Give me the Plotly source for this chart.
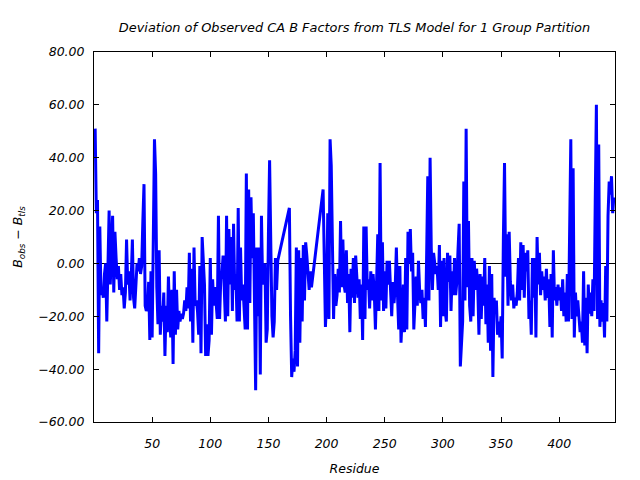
import plotly.graph_objects as go

# residues present (two gaps: 159-167, 188-196)
residues = list(range(1, 159)) + list(range(168, 188)) + list(range(197, 448))

b_dev = [
    # 1-91
    51, 19, 24, -34, 14, -12, -9, -13, -4, 0,
    -22, 4, 20, -8, 5, 18, -11, 12, 2, -6,
    -1, -10, -4, -12, -9, -17, -11, 9, -8, -3,
    -14, -6, 9, -13, -17, -6, 0, -3, 2, -4,
    -1, 16, 30, -16, -18, -17, -7, -29, -3, -28,
    2, 47, 34, -9, -23, 5, -27, -16, -22, -11,
    -35, -16, -26, -5, -20, -28, -10, -38, -3, -27,
    -10, -25, -18, -22, -19, -21, -19, -14, -18, -9,
    -17, 4, -22, -2, -30, 6, -16, -14, -18, -27,
    -1,
    # 92-158
    -34, 10, -2, -8, -35, -23, -35, -29, 2,
    -27, -6, -16, -9, -15, -21, 18, -21, -6, -4,
    3, -14, -22, 18, -20, 13, -8, 10, -18, 15,
    -10, -4, -22, 21, -22, 6, -14, -8, -16, -25,
    34, -25, 28, -15, 25, 2, 19, -22, -48, 6,
    -20, 6, -42, 18, -8, -2, 0, -30, -25, 11,
    39, 8, -20, -28, -22, 2, -10, 1,
    # 168-187
    21, -20, -43, -36, -41, -33, 6, -39, 5, -30,
    2, -22, 7, -14, 8, 3, -5, -10, -3, -9,
    # 197-263
    28, -8, -24, -14, 19, -21, 47, 37, 6, -21,
    -4, -16, -12, -2, -11, 16, -9, 9, -8, -11,
    5, -15, -4, -26, -2, -13, 2, -15, 3, -7,
    -13, -6, -21, -8, -29, 14, -21, 14, -10, -6,
    -17, -3, -14, -4, -11, -25, -8, 11, -18, 38,
    -14, 8, -18, -3, -17, 1, -8, 1, -10, -20,
    -7, -15, -9, 6, -12, -25, -1,
    # 264-349
    -30, -20, -8, -26, 2, -25, 12, 0, 13, -3,
    4, -25, -15, -5, -16, 1, -10, -15, -10, -21,
    -13, -24, 2, 33, -14, 40, 6, -10, 4, -1,
    -4, -1, -10, 7, -24, 1, -20, 2, -18, -22,
    4, -7, 3, -18, -3, -12, 2, -12, -7, 5,
    15, -39, -28, -22, 31, -14, 51, -9, 16, -16,
    -22, 2, -20, 1, -10, -2, -9, -27, -4, -21,
    -5, -16, 2, -23, -8, -30, -1, -33, -4, -43,
    -13, -18, -14, -27, -22, -28,
    # 350-447
    -20, -36, 9, 38, -5, 11, -16, 12, -7, -14,
    -8, -17, -13, -16, -11, 2, -14, 8, -10, 7,
    -13, 4, -3, 5, -21, -14, -27, 2, -13, 2,
    -28, 10, -8, 4, -12, -3, -10, -5, -14, -2,
    -13, -6, -24, -4, -28, 5, -14, -9, -16, -8,
    -14, -9, -18, -6, -20, -11, -22, -4, -22, 12,
    47, -21, 36, -28, -11, -20, -14, -20, -26, -22,
    -30, -3, -31, -13, -34, -8, -19, -11, -20, -6,
    -18, 23, 60, -21, 45, -24, -14, -22, -15, -28,
    -1, -22, 18, 31, 26, 33, 19, 25,
]

x_ticks = [50, 100, 150, 200, 250, 300, 350, 400]
y_ticks = [-60, -40, -20, 0, 20, 40, 60, 80]

font_family = "DejaVu Sans"

fig = go.Figure()
fig.add_trace(go.Scatter(
    x=residues, y=b_dev, mode="lines",
    line=dict(color="#0000ff", width=3),
    showlegend=False,
))

# page body has an 8px margin, so the figure is sized 632x472
fig.update_layout(
    width=632, height=472,
    margin=dict(l=86, r=25, t=44, b=58),
    paper_bgcolor="white", plot_bgcolor="white",
    font=dict(family=font_family, size=12, color="black", style="italic"),
    title=dict(
        text="Deviation of Observed CA B Factors from TLS Model for 1 Group Partition",
        x=0.5, xref="paper", xanchor="center",
        y=1 - 19 / 472, yref="container", yanchor="middle",
        font=dict(family=font_family, size=12.9, style="italic", color="black"),
    ),
)

fig.update_xaxes(
    range=[0, 448], tickvals=x_ticks, ticktext=[str(v) for v in x_ticks],
    showgrid=False, zeroline=False, automargin=False,
    showline=True, linecolor="black", linewidth=1, mirror="ticks",
    ticks="inside", ticklen=5, tickcolor="black",
    ticklabelstandoff=10,
    tickfont=dict(family=font_family, size=12.5, style="italic"),
    title=dict(text="Residue", font=dict(family=font_family, size=12.5, style="italic"), standoff=14),
)
fig.update_yaxes(
    range=[-60, 80], tickvals=y_ticks, tickformat=".2f",
    showgrid=False, zeroline=True, zerolinecolor="black", zerolinewidth=1,
    automargin=False,
    showline=True, linecolor="black", linewidth=1, mirror="ticks",
    ticks="inside", ticklen=5, tickcolor="black",
    ticklabelstandoff=6,
    tickfont=dict(family=font_family, size=12.5, style="italic"),
    title=dict(text="B<sub>obs</sub> \u2212 B<sub>tls</sub>",
               font=dict(family=font_family, size=12.5, style="italic"), standoff=12),
)

fig.write_html("out.html")
